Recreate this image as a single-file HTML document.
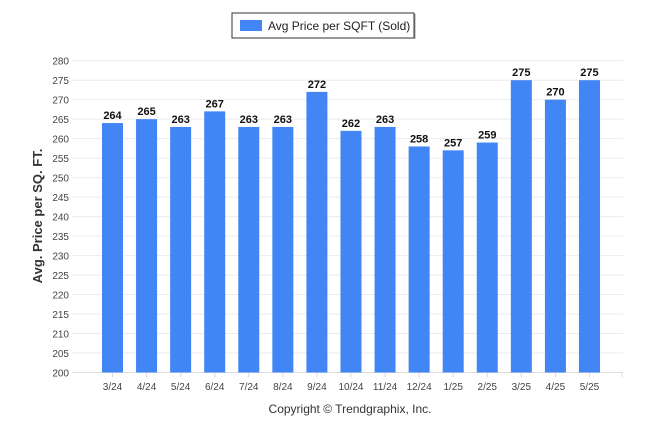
<!DOCTYPE html>
<html><head><meta charset="utf-8"><style>
body{margin:0;background:#fff;font-family:"Liberation Sans",sans-serif}
</style></head><body>
<svg width="646" height="434" style="display:block">
<g>
<rect x="232" y="13" width="182" height="25" fill="#fff" stroke="#333" stroke-width="1"/>
<line x1="415" y1="14" x2="415" y2="39" stroke="#999"/>
<rect x="240" y="20" width="22" height="11" fill="#4285f4"/>
<text x="268" y="30" font-size="12" fill="#222">Avg Price per SQFT (Sold)</text>
</g>
<g id="grid"></g><g id="bars"></g>
<text transform="translate(42,216) rotate(-90)" text-anchor="middle" font-size="13" font-weight="bold" fill="#333">Avg. Price per SQ. FT.</text>
<text x="350" y="413" text-anchor="middle" font-size="12" fill="#333">Copyright © Trendgraphix, Inc.</text>
</svg>
<script>
const categories=["3/24","4/24","5/24","6/24","7/24","8/24","9/24","10/24","11/24","12/24","1/25","2/25","3/25","4/25","5/25"];
const values=[264,265,263,267,263,263,272,262,263,258,257,259,275,270,275];
const yTicks=[200,205,210,215,220,225,230,235,240,245,250,255,260,265,270,275,280];
const NS="http://www.w3.org/2000/svg";
const y0=372.5,y1=60.7,vmin=200,vmax=280,left=72,right=623;
const yS=v=>y0-(v-vmin)/(vmax-vmin)*(y0-y1);
const step=34.07,first=112.5;
const xC=i=>first+i*step;
function mk(t,a,p){const e=document.createElementNS(NS,t);for(const k in a)e.setAttribute(k,a[k]);p.appendChild(e);return e;}
const g=document.getElementById('grid'),b=document.getElementById('bars');
yTicks.forEach(v=>{
 const l=mk('line',{x1:left,x2:right,y1:yS(v),y2:yS(v),stroke:v===200?'#ddd':'#ebebeb'},g);
 
 
 const t=mk('text',{x:left-3,y:yS(v)+4,'text-anchor':'end','font-size':'10',fill:'#444'},g);
 t.textContent=v;
 
 
});
categories.forEach((c,i)=>{
 const tk=mk('line',{x1:xC(i),x2:xC(i),y1:y0,y2:y0+5,stroke:'#ddd'},g);
 
 
 const r=mk('rect',{x:xC(i)-10.5,y:yS(values[i]),width:21,height:y0-yS(values[i]),fill:'#4285f4'},b);
 
 
 const vl=mk('text',{x:xC(i),y:yS(values[i])-4,'text-anchor':'middle','font-size':'11','font-weight':'bold',fill:'#111'},b);
 vl.textContent=values[i];
 
 
 const xl=mk('text',{x:xC(i),y:390,'text-anchor':'middle','font-size':'10',fill:'#444'},b);
 xl.textContent=c;
 
 
});
const et=mk('line',{x1:right-1,x2:right-1,y1:y0,y2:y0+5,stroke:'#ddd'},g);


</script>
</body></html>
